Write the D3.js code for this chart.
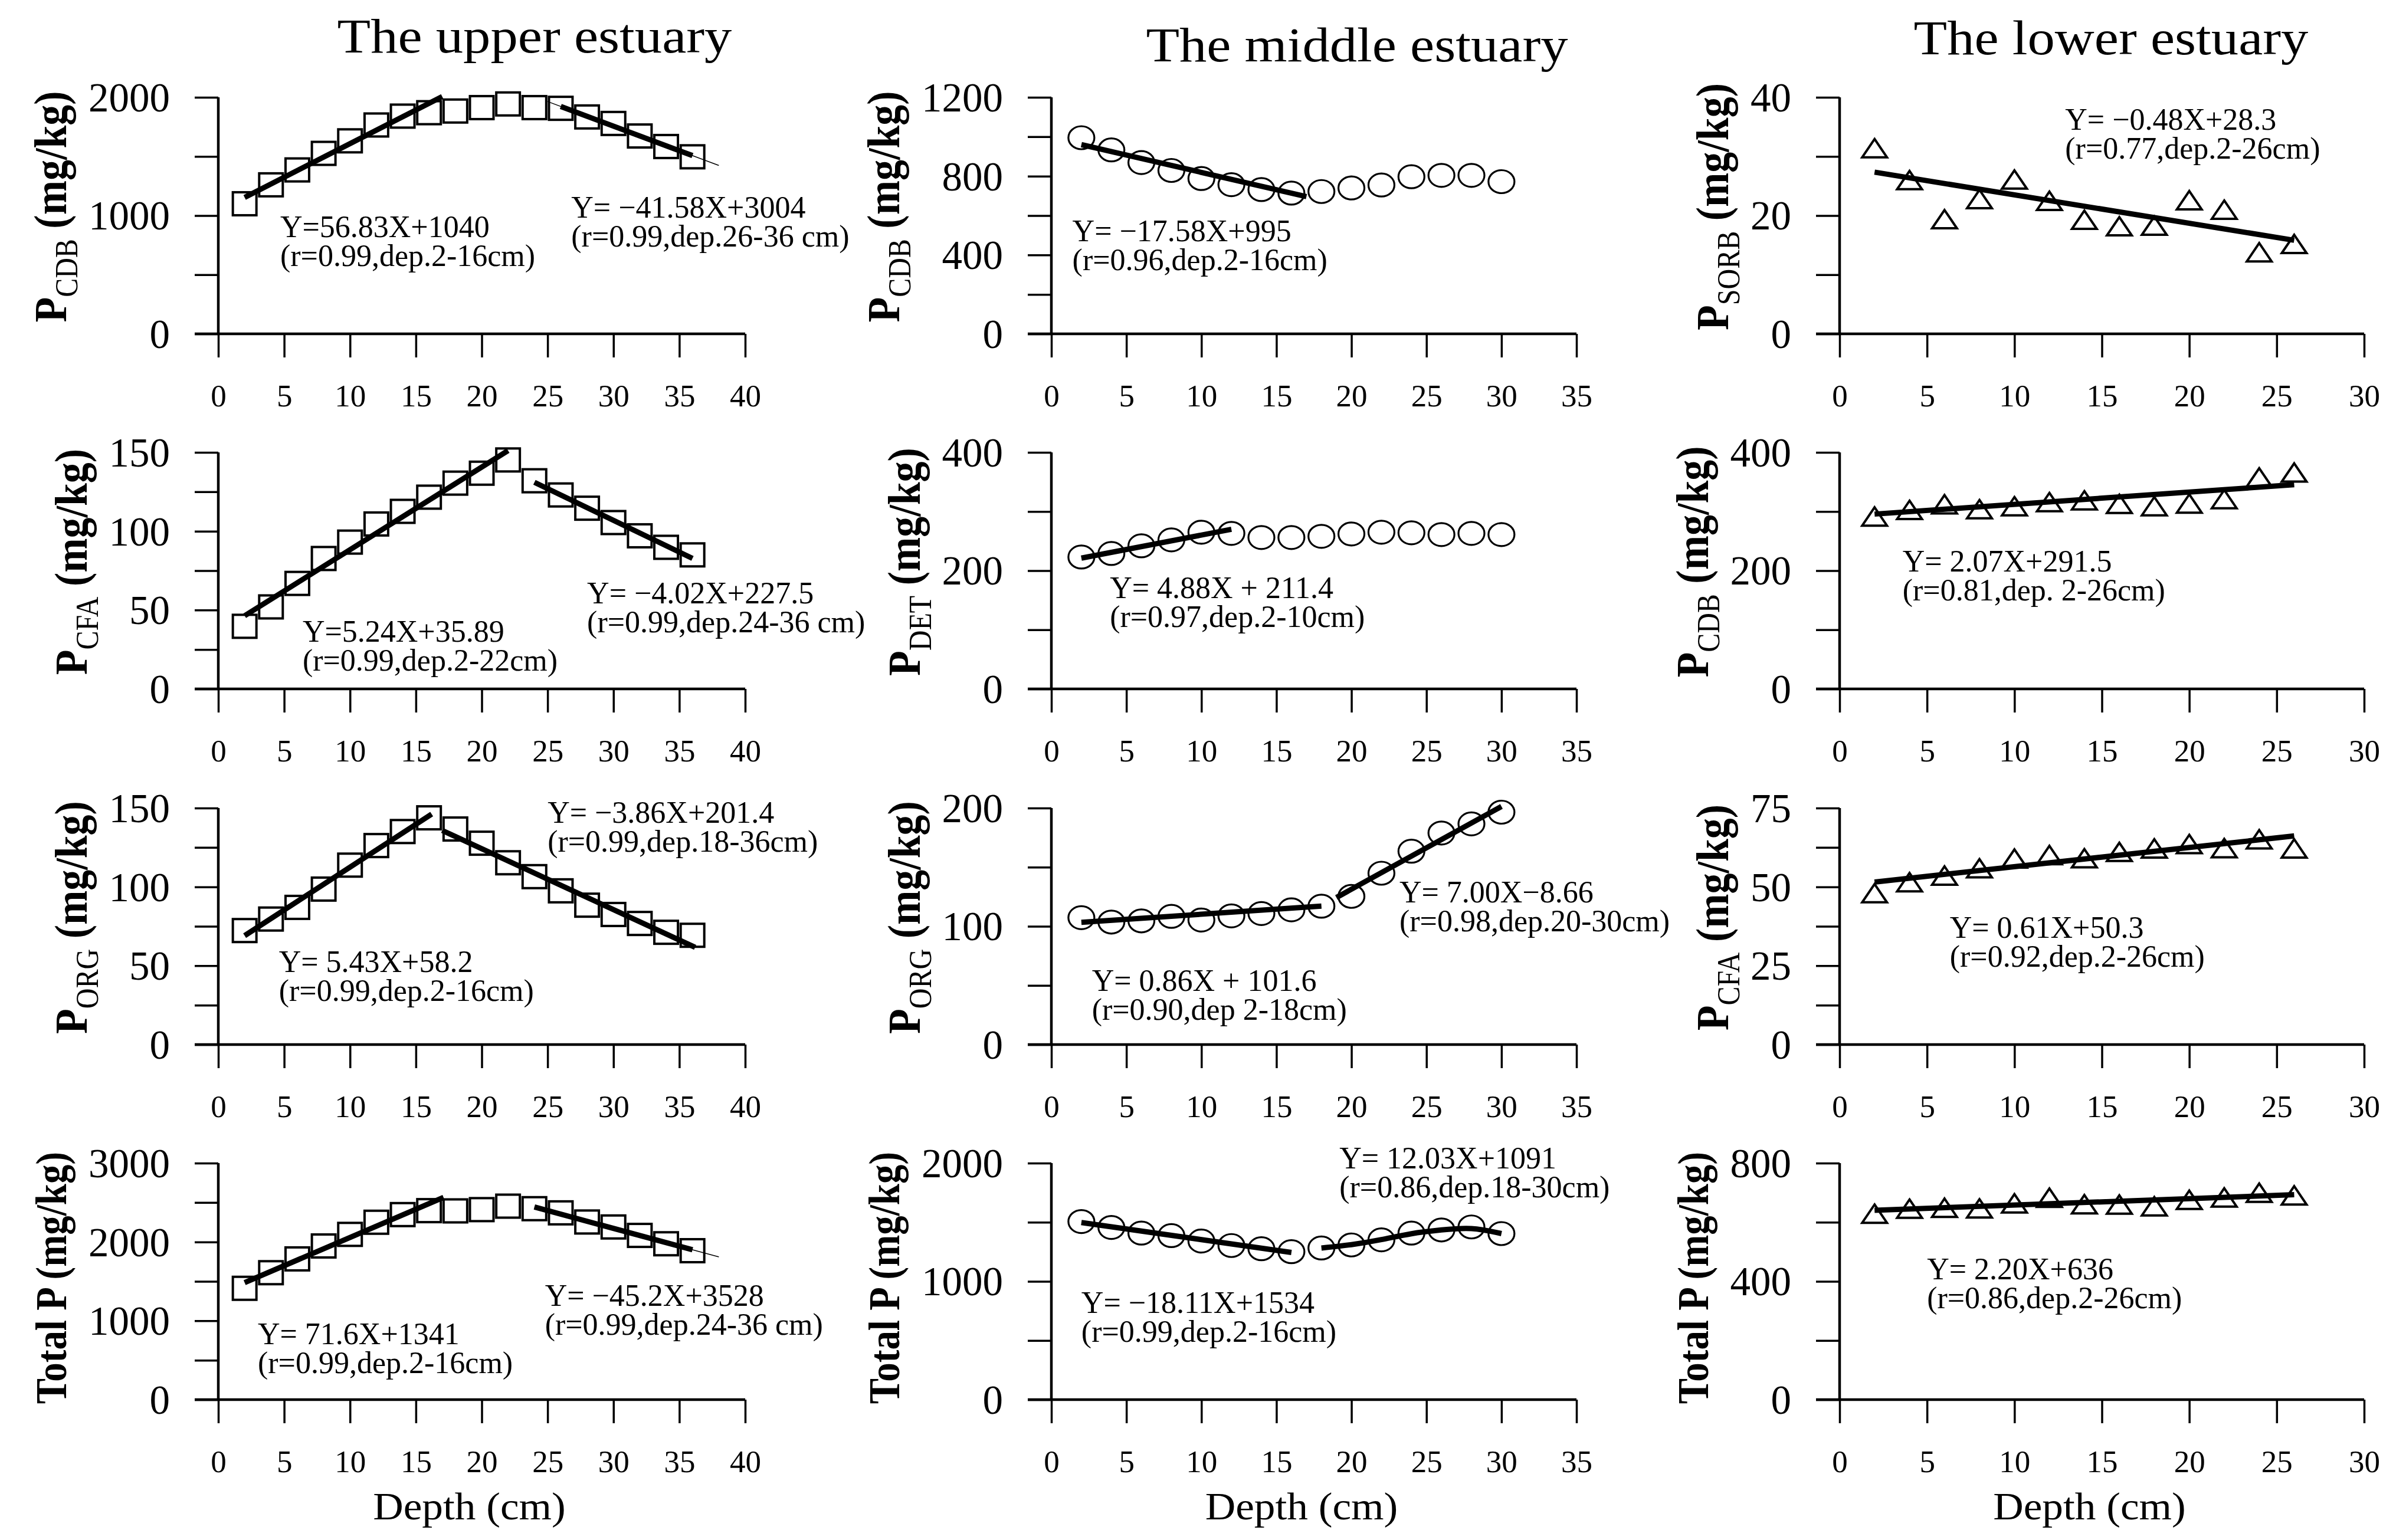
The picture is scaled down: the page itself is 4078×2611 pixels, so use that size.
<!DOCTYPE html>
<html>
<head>
<meta charset="utf-8">
<script src="https://cdn.jsdelivr.net/npm/d3@7"></script>
<style>
  body { margin: 0; background: #fff; }
  svg { display: block; background: #fff; }
  text { font-family: "Liberation Serif", "Times New Roman", serif; fill: #000; }
</style>
</head>
<body>
<svg id="chart" width="4078" height="2611"></svg>
<script>
// ---- data ----
var depthUpper  = [2,4,6,8,10,12,14,16,18,20,22,24,26,28,30,32,34,36];
var depthMiddle = [2,4,6,8,10,12,14,16,18,20,22,24,26,28,30];
var depthLower  = [2,4,6,8,10,12,14,16,18,20,22,24,26];

var upperCDB = [1100,1260,1386,1526,1632,1766,1841,1870,1884,1913,1944,1913,1907,1834,1779,1673,1584,1497];
var upperCFA = [39.7,52.0,66.9,82.7,93.1,104.6,112.6,121.6,130.5,136.8,145.2,132.0,123.0,114.6,105.5,97.1,89.8,85.0];
var upperORG = [72.3,79.6,87.0,98.6,113.8,126.2,135.1,143.8,136.7,127.7,115.3,106.5,97.5,88.4,82.5,76.8,71.2,69.3];
var upperTP  = [1412,1610,1785,1949,2096,2250,2347,2397,2394,2410,2454,2422,2369,2253,2190,2083,1977,1889];

var middleCDB = [995,933,869,829,788,757,732,714,722,740,755,797,804,804,772];
var middleDET = [223,229,242,252,265,263,256,256,258,262,265,264,261,263,261];
var middleORG = [107.3,103.6,104.6,108.4,105.3,108.8,110.8,113.9,117.0,125.3,144.9,163.5,178.9,186.6,196.5];
var middleTP  = [1506,1456,1408,1387,1341,1303,1276,1251,1282,1308,1351,1408,1435,1460,1404];

var lowerSORB = [31.4,26.0,19.4,22.8,26.1,22.5,19.3,18.2,18.3,22.6,21.0,13.8,15.2];
var lowerCDB  = [291.6,302.8,312.3,304,309,316,319,313,309,313.5,321,357.8,366];
var lowerCFA  = [48.0,51.5,53.6,55.9,59.0,60.1,59.1,61.1,62.2,63.6,62.3,65.1,62.2];
var lowerTP   = [629,646,649,647,664,683,661,660,654,676,684,700,691];

// regression lines: [slope, intercept, from depth, to depth]
var fitUpperCDB  = [[56.83,1040,2,17],[-41.58,3004,26,36]];
var fitUpperCFA  = [[5.24,35.89,2,22],[-4.02,227.5,24,36]];
var fitUpperORG  = [[5.43,58.2,2,16.2],[-3.86,201.4,17,36.2]];
var fitUpperTP   = [[71.6,1341,2,17.1],[-45.2,3528,24,36]];
var fitMiddleCDB = [[-17.58,995,2,17]];
var fitMiddleDET = [[4.88,211.4,2,12]];
var fitMiddleORG = [[0.86,101.6,2,18],[7.00,-8.66,19,30]];
var fitMiddleTP  = [[-18.11,1534,2,16]];
var fitLowerSORB = [[-0.48,28.3,2,26]];
var fitLowerCDB  = [[2.07,291.5,2,26]];
var fitLowerCFA  = [[0.61,50.3,2,26]];
var fitLowerTP   = [[2.20,636,2,26]];
// thin extended fit lines
var extUpperCDB = [[-41.58,3004,25,38]];
var extUpperTP  = [[-45.2,3528,24,38]];
// smoothed trend through the deeper middle-estuary total P (depth range)
var smoothMiddleTP = [18,30];

// equation labels
var noteUpperCDB  = [["Y=56.83X+1040","(r=0.99,dep.2-16cm)"],["Y= \u221241.58X+3004","(r=0.99,dep.26-36 cm)"]];
var noteUpperCFA  = [["Y=5.24X+35.89","(r=0.99,dep.2-22cm)"],["Y= \u22124.02X+227.5","(r=0.99,dep.24-36 cm)"]];
var noteUpperORG  = [["Y= 5.43X+58.2","(r=0.99,dep.2-16cm)"],["Y= \u22123.86X+201.4","(r=0.99,dep.18-36cm)"]];
var noteUpperTP   = [["Y= 71.6X+1341","(r=0.99,dep.2-16cm)"],["Y= \u221245.2X+3528","(r=0.99,dep.24-36 cm)"]];
var noteMiddleCDB = [["Y= \u221217.58X+995","(r=0.96,dep.2-16cm)"]];
var noteMiddleDET = [["Y= 4.88X + 211.4","(r=0.97,dep.2-10cm)"]];
var noteMiddleORG = [["Y= 0.86X + 101.6","(r=0.90,dep 2-18cm)"],["Y= 7.00X\u22128.66","(r=0.98,dep.20-30cm)"]];
var noteMiddleTP  = [["Y= \u221218.11X+1534","(r=0.99,dep.2-16cm)"],["Y= 12.03X+1091","(r=0.86,dep.18-30cm)"]];
var noteLowerSORB = [["Y= \u22120.48X+28.3","(r=0.77,dep.2-26cm)"]];
var noteLowerCDB  = [["Y= 2.07X+291.5","(r=0.81,dep. 2-26cm)"]];
var noteLowerCFA  = [["Y= 0.61X+50.3","(r=0.92,dep.2-26cm)"]];
var noteLowerTP   = [["Y= 2.20X+636","(r=0.86,dep.2-26cm)"]];

// axis ticks and labels
var xTicks40 = [0,5,10,15,20,25,30,35,40];
var xTicks35 = [0,5,10,15,20,25,30,35];
var xTicks30 = [0,5,10,15,20,25,30];
var ticksUpperCDB  = [0,500,1000,1500,2000],           labelsUpperCDB  = [0,1000,2000];
var ticksMiddleCDB = [0,200,400,600,800,1000,1200],    labelsMiddleCDB = [0,400,800,1200];
var ticksLowerSORB = [0,10,20,30,40],                  labelsLowerSORB = [0,20,40];
var ticksUpperCFA  = [0,25,50,75,100,125,150],         labelsUpperCFA  = [0,50,100,150];
var ticksMiddleDET = [0,100,200,300,400],              labelsMiddleDET = [0,200,400];
var ticksLowerCDB  = [0,100,200,300,400],              labelsLowerCDB  = [0,200,400];
var ticksUpperORG  = [0,25,50,75,100,125,150],         labelsUpperORG  = [0,50,100,150];
var ticksMiddleORG = [0,50,100,150,200],               labelsMiddleORG = [0,100,200];
var ticksLowerCFA  = [0,12.5,25,37.5,50,62.5,75],      labelsLowerCFA  = [0,25,50,75];
var ticksUpperTP   = [0,500,1000,1500,2000,2500,3000], labelsUpperTP   = [0,1000,2000,3000];
var ticksMiddleTP  = [0,500,1000,1500,2000],           labelsMiddleTP  = [0,1000,2000];
var ticksLowerTP   = [0,200,400,600,800],              labelsLowerTP   = [0,400,800];

var columnTitles = ["The upper estuary", "The middle estuary", "The lower estuary"];
var xTitle = "Depth (cm)";

// ---- layout ----
var SX = 1.13;          // titles in the figure are slightly stretched sideways
var TICK = 40;
var colX = [370, 1782, 3118], colW = [893, 890, 889];
var rowTop = [165, 767, 1370, 1972], rowH = 401;
var titlePos = [[906, 89], [2300, 104], [3578, 92]];

// note anchors in data units (depth, value) of the first line's baseline
var panels = [
  {c:0,r:0,x:depthUpper, y:upperCDB, m:"square",  xt:xTicks40,yt:ticksUpperCDB, yl:labelsUpperCDB, sub:"CDB", fit:fitUpperCDB, ext:extUpperCDB, note:noteUpperCDB, at:[[4.7,818],[26.8,982]]},
  {c:1,r:0,x:depthMiddle,y:middleCDB,m:"circle",  xt:xTicks35,yt:ticksMiddleCDB,yl:labelsMiddleCDB,sub:"CDB", fit:fitMiddleCDB,note:noteMiddleCDB,at:[[1.4,470]]},
  {c:2,r:0,x:depthLower, y:lowerSORB,m:"triangle",xt:xTicks30,yt:ticksLowerSORB,yl:labelsLowerSORB,sub:"SORB",fit:fitLowerSORB,note:noteLowerSORB,at:[[12.9,34.5]]},
  {c:0,r:1,x:depthUpper, y:upperCFA, m:"square",  xt:xTicks40,yt:ticksUpperCFA, yl:labelsUpperCFA, sub:"CFA", fit:fitUpperCFA, note:noteUpperCFA, at:[[6.4,29.9],[28.0,54.2]]},
  {c:1,r:1,x:depthMiddle,y:middleDET,m:"circle",  xt:xTicks35,yt:ticksMiddleDET,yl:labelsMiddleDET,sub:"DET", fit:fitMiddleDET,note:noteMiddleDET,at:[[3.9,153.6]]},
  {c:2,r:1,x:depthLower, y:lowerCDB, m:"triangle",xt:xTicks30,yt:ticksLowerCDB, yl:labelsLowerCDB, sub:"CDB", fit:fitLowerCDB, note:noteLowerCDB, at:[[3.6,198.5]]},
  {c:0,r:2,x:depthUpper, y:upperORG, m:"square",  xt:xTicks40,yt:ticksUpperORG, yl:labelsUpperORG, sub:"ORG", fit:fitUpperORG, note:noteUpperORG, at:[[4.6,46.0],[25.0,140.7]]},
  {c:1,r:2,x:depthMiddle,y:middleORG,m:"circle",  xt:xTicks35,yt:ticksMiddleORG,yl:labelsMiddleORG,sub:"ORG", fit:fitMiddleORG,note:noteMiddleORG,at:[[2.7,45.4],[23.2,120.2]]},
  {c:2,r:2,x:depthLower, y:lowerCFA, m:"triangle",xt:xTicks30,yt:ticksLowerCFA, yl:labelsLowerCFA, sub:"CFA", fit:fitLowerCFA, note:noteLowerCFA, at:[[6.3,33.9]]},
  {c:0,r:3,x:depthUpper, y:upperTP,  m:"square",  xt:xTicks40,yt:ticksUpperTP,  yl:labelsUpperTP,  sub:null,  fit:fitUpperTP,  ext:extUpperTP, note:noteUpperTP, at:[[3.0,703],[24.8,1190]]},
  {c:1,r:3,x:depthMiddle,y:middleTP, m:"circle",  xt:xTicks35,yt:ticksMiddleTP, yl:labelsMiddleTP, sub:null,  fit:fitMiddleTP, smooth:smoothMiddleTP, note:noteMiddleTP, at:[[2.0,733],[19.2,1955]]},
  {c:2,r:3,x:depthLower, y:lowerTP,  m:"triangle",xt:xTicks30,yt:ticksLowerTP,  yl:labelsLowerTP,  sub:null,  fit:fitLowerTP,  note:noteLowerTP,  at:[[5.0,407]]}
];

var svg = d3.select("#chart");

function drawPanel(p) {
  var w = colW[p.c], h = rowH;
  var g = svg.append("g").attr("transform", "translate(" + colX[p.c] + "," + rowTop[p.r] + ")");
  var x = d3.scaleLinear().domain([0, d3.max(p.xt)]).range([0, w]);
  var y = d3.scaleLinear().domain([0, d3.max(p.yt)]).range([h, 0]);

  // x axis
  var xa = g.append("g").attr("transform", "translate(0," + h + ")")
    .call(d3.axisBottom(x).tickValues(p.xt).tickSize(TICK).tickSizeOuter(0));
  xa.attr("font-size", null).attr("font-family", null);
  xa.select(".domain").remove();
  xa.selectAll(".tick line").attr("stroke", "#000").attr("stroke-width", 3.5);
  xa.selectAll(".tick text").attr("y", 123).attr("dy", null).attr("font-size", 53);

  // y axis
  var ya = g.append("g")
    .call(d3.axisLeft(y).tickValues(p.yt).tickSize(TICK).tickSizeOuter(0)
      .tickFormat(function(d) { return p.yl.indexOf(d) >= 0 ? d : ""; }));
  ya.attr("font-size", null).attr("font-family", null);
  ya.select(".domain").remove();
  ya.selectAll(".tick line").attr("stroke", "#000").attr("stroke-width", 3.5);
  ya.selectAll(".tick text").attr("x", -82).attr("dy", "0.34em").attr("font-size", 69);

  g.append("line").attr("x1", -TICK).attr("x2", w).attr("y1", h).attr("y2", h)
    .attr("stroke", "#000").attr("stroke-width", 4.5);
  g.append("line").attr("x1", 0).attr("x2", 0).attr("y1", y(d3.max(p.yt))).attr("y2", h)
    .attr("stroke", "#000").attr("stroke-width", 4.5);

  // y title, placed left of the widest tick label
  var maxW = d3.max(ya.selectAll(".tick text").nodes(), function(n) { return n.getComputedTextLength(); });
  var tx = -82 - maxW - 38;
  var t = g.append("text").attr("text-anchor", "middle");
  if (p.sub) {
    t.attr("transform", "translate(" + tx + "," + (h / 2 - 15) + ") scale(" + SX + ",1) rotate(-90)");
    t.append("tspan").attr("font-size", 70).attr("font-weight", "bold").text("P");
    t.append("tspan").attr("font-size", 48).attr("dy", 17).text(p.sub);
    t.append("tspan").attr("font-size", 70).attr("font-weight", "bold").attr("dy", -17).text(" (mg/kg)");
  } else {
    t.attr("transform", "translate(" + tx + "," + (h / 2 - 6) + ") scale(" + SX + ",1) rotate(-90)");
    t.append("tspan").attr("font-size", 65).attr("font-weight", "bold").text("Total P (mg/kg)");
  }

  // markers
  var pts = p.x.map(function(d, i) { return [d, p.y[i]]; });
  var mk = g.append("g").attr("fill", "none").attr("stroke", "#000");
  if (p.m === "square") {
    mk.selectAll("rect").data(pts).join("rect")
      .attr("x", function(d) { return x(d[0]) - 20; })
      .attr("y", function(d) { return y(d[1]) - 19.5; })
      .attr("width", 40).attr("height", 39).attr("stroke-width", 4);
  } else if (p.m === "circle") {
    mk.selectAll("ellipse").data(pts).join("ellipse")
      .attr("cx", function(d) { return x(d[0]); })
      .attr("cy", function(d) { return y(d[1]); })
      .attr("rx", 22).attr("ry", 19.5).attr("stroke-width", 3.2);
  } else {
    mk.selectAll("path").data(pts).join("path")
      .attr("d", "M0,-15.5L21,15.5L-21,15.5Z")
      .attr("transform", function(d) { return "translate(" + x(d[0]) + "," + y(d[1]) + ")"; })
      .attr("stroke-width", 4).attr("stroke-linejoin", "miter");
  }

  // fit lines
  var line = d3.line().x(function(d) { return x(d[0]); }).y(function(d) { return y(d[1]); });
  function seg(f) { return [[f[2], f[0] * f[2] + f[1]], [f[3], f[0] * f[3] + f[1]]]; }
  (p.ext || []).forEach(function(f) {
    g.append("path").attr("d", line(seg(f))).attr("fill", "none").attr("stroke", "#000").attr("stroke-width", 1.5);
  });
  p.fit.forEach(function(f) {
    g.append("path").attr("d", line(seg(f))).attr("fill", "none").attr("stroke", "#000").attr("stroke-width", 9);
  });
  if (p.smooth) {
    var sp = pts.filter(function(d) { return d[0] >= p.smooth[0] && d[0] <= p.smooth[1]; });
    g.append("path").attr("d", line.curve(d3.curveBasis)(sp)).attr("fill", "none")
      .attr("stroke", "#000").attr("stroke-width", 9);
  }

  // equation notes: one text block, two lines
  p.note.forEach(function(lines, i) {
    var a = p.at[i];
    var nt = g.append("text").attr("font-size", 52).attr("x", x(a[0])).attr("y", y(a[1]));
    lines.forEach(function(s, j) {
      nt.append("tspan").attr("x", x(a[0])).attr("dy", j ? 49 : 0).text(s);
    });
  });

  // depth title under the bottom row
  if (p.r === 3) {
    g.append("text").attr("font-size", 66).attr("text-anchor", "middle")
      .attr("transform", "translate(" + (w / 2 - 21) + "," + (h + 203) + ") scale(1.08,1)")
      .text(xTitle);
  }
}

panels.forEach(drawPanel);

columnTitles.forEach(function(s, i) {
  svg.append("text").attr("font-size", 82).attr("text-anchor", "middle")
    .attr("transform", "translate(" + titlePos[i][0] + "," + titlePos[i][1] + ") scale(" + SX + ",1)")
    .text(s);
});
</script>
</body>
</html>
